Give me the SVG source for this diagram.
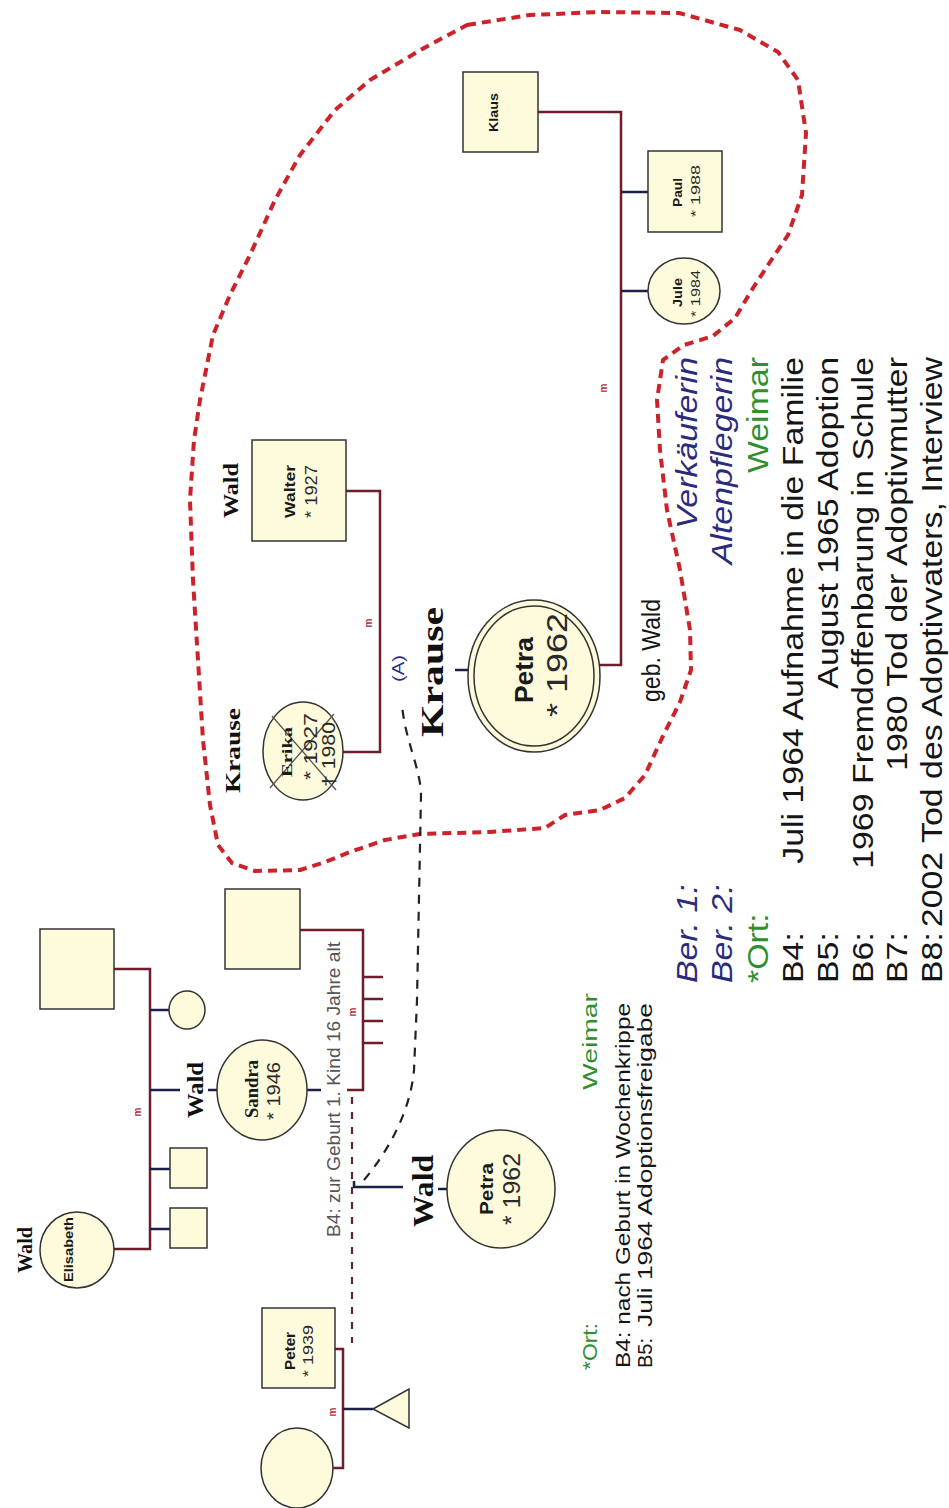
<svg xmlns="http://www.w3.org/2000/svg" width="949" height="1508" viewBox="0 0 949 1508">
<style>
.nd{fill:#fdfbdc;stroke:#333;stroke-width:1.5}
.lm{fill:none;stroke:#6e1d2a;stroke-width:2.5}
.lc{fill:none;stroke:#1e1e4a;stroke-width:2.5}
.bound{fill:none;stroke:#cc2229;stroke-width:4;stroke-dasharray:9 6;stroke-linejoin:round}
.dk{fill:none;stroke:#222;stroke-width:2.2;stroke-dasharray:9 8}
.dr{fill:none;stroke:#5a2630;stroke-width:2.2;stroke-dasharray:7 8}
.fam{font-family:"Liberation Serif",serif;font-weight:bold;fill:#111}
.nm{font-family:"Liberation Sans",sans-serif;font-weight:bold;fill:#1a1a1a}
.nms{font-family:"Liberation Serif",serif;font-weight:bold;fill:#1a1a1a}
.yr{font-family:"Liberation Sans",sans-serif;fill:#2a2a2a}
.tx{font-family:"Liberation Sans",sans-serif;fill:#151515}
.gr{font-family:"Liberation Sans",sans-serif;fill:#555}
.ber{font-family:"Liberation Sans",sans-serif;font-style:italic;fill:#2b2b7d}
.ort{font-family:"Liberation Sans",sans-serif;fill:#2f8f2f}
.blue{font-family:"Liberation Sans",sans-serif;fill:#2b2b8a}
.mm{font-family:"Liberation Sans",sans-serif;font-weight:bold;font-size:10px;fill:#b03040;text-anchor:middle}
.end{text-anchor:end}
</style>

<!-- boundary -->
<path class="bound" d="M467,25 L530,15 L600,12 L679,13 L740,30 L778,52 L798,80 L806,133 L802,195 L788,235 L770,262 L753,288 L735,318 L713,336 L684,345 L663,360 L657,400 L660,450 L667,510 L680,570 L690,630 L691,670 L680,702 L662,738 L645,775 L625,798 L600,810 L565,815 L545,828 L490,832 L420,834 L385,840 L350,852 L325,862 L300,870 L255,871 L232,863 L218,845 L210,805 L203,740 L198,660 L193,580 L190,500 L194,440 L200,400 L213,335 L230,295 L250,255 L275,200 L300,155 L335,110 L370,80 L424,48 Z"/>

<g id="connectors">
  <path class="lm" d="M114,969 H150 V1249 H113"/>
  <path class="lc" d="M150,1010 H169"/>
  <path class="lc" d="M150,1090 H180 M208,1090 H217"/>
  <path class="lc" d="M150,1169 H170"/>
  <path class="lc" d="M150,1229 H170"/>
  <path class="lm" d="M300,930 H363 V1090 H347"/>
  <path class="lc" d="M307,1090 H321"/>
  <path class="lm" d="M363,977 H383 M363,999 H383 M363,1021 H383 M363,1043 H383"/>
  <path class="lm" d="M335,1349 H343 V1468 H333"/>
  <path class="lc" d="M343,1409 H373"/>
  <path class="dr" d="M352,1097 V1343"/>
  <path class="lc" d="M354,1181 V1187 H403 M438,1189 H447"/>
  <path class="dk" d="M364,1180 C385,1155 410,1115 414,1070 L417,1000 L421,795 C421,770 405,740 402,705"/>
  <path class="lm" d="M346,491 H380 V752 H343"/>
  <path class="lc" d="M455,670 H468"/>
  <path class="lm" d="M538,112 H621 V665 H600"/>
  <path class="lc" d="M621,192 H648"/>
  <path class="lc" d="M621,291 H649"/>
  <text class="mm" transform="translate(141,1112) rotate(-90)">m</text>
  <text class="mm" transform="translate(356,1012) rotate(-90)">m</text>
  <text class="mm" transform="translate(336,1412) rotate(-90)">m</text>
  <text class="mm" transform="translate(372,623) rotate(-90)">m</text>
  <text class="mm" transform="translate(607,388) rotate(-90)">m</text>
</g>

<g id="elisabeth-husband"><rect class="nd" x="40" y="929" width="74" height="80"/></g>
<g id="sister-small"><ellipse class="nd" cx="187" cy="1010" rx="18" ry="19"/></g>
<g id="sandra">
  <ellipse class="nd" cx="262" cy="1090" rx="45" ry="50"/>
  <text class="fam" font-size="24" transform="translate(203,1118) rotate(-90)" textLength="56" lengthAdjust="spacingAndGlyphs">Wald</text>
  <text class="nms" font-size="18" transform="translate(258,1118) rotate(-90)" textLength="58" lengthAdjust="spacingAndGlyphs">Sandra</text>
  <text class="yr" font-size="18" transform="translate(280,1120) rotate(-90)" textLength="58" lengthAdjust="spacingAndGlyphs">* 1946</text>
</g>
<g id="brother1"><rect class="nd" x="170" y="1148" width="37" height="40"/></g>
<g id="brother2"><rect class="nd" x="170" y="1208" width="37" height="40"/></g>
<g id="elisabeth">
  <ellipse class="nd" cx="77" cy="1250" rx="37" ry="38"/>
  <text class="fam" font-size="20" transform="translate(32,1273) rotate(-90)" textLength="46" lengthAdjust="spacingAndGlyphs">Wald</text>
  <text class="nm" font-size="12" transform="translate(73,1282) rotate(-90)" textLength="65" lengthAdjust="spacingAndGlyphs">Elisabeth</text>
</g>
<g id="sandra-partner"><rect class="nd" x="225" y="889" width="75" height="80"/></g>
<g id="peter">
  <rect class="nd" x="262" y="1308" width="73" height="80"/>
  <text class="nm" font-size="14" transform="translate(295,1370) rotate(-90)" textLength="38" lengthAdjust="spacingAndGlyphs">Peter</text>
  <text class="yr" font-size="15" transform="translate(313,1377) rotate(-90)" textLength="52" lengthAdjust="spacingAndGlyphs">* 1939</text>
</g>
<g id="peter-partner"><ellipse class="nd" cx="297" cy="1468" rx="36" ry="40"/></g>
<g id="peter-child"><polygon class="nd" points="373,1409 409,1389 409,1428"/></g>
<g id="petra-small">
  <ellipse class="nd" cx="501" cy="1189" rx="54" ry="59"/>
  <text class="fam" font-size="30" transform="translate(433,1227) rotate(-90)" textLength="72" lengthAdjust="spacingAndGlyphs">Wald</text>
  <text class="nm" font-size="18" transform="translate(493,1215) rotate(-90)" textLength="52" lengthAdjust="spacingAndGlyphs">Petra</text>
  <text class="yr" font-size="24" transform="translate(520,1225) rotate(-90)" textLength="72" lengthAdjust="spacingAndGlyphs">* 1962</text>
</g>
<g id="note-b4">
  <text class="gr" font-size="18" transform="translate(340,1237) rotate(-90)" textLength="295" lengthAdjust="spacingAndGlyphs">B4: zur Geburt 1. Kind 16 Jahre alt</text>
</g>
<g id="legend-left">
  <text class="ort" font-size="21" transform="translate(597,1370) rotate(-90)" textLength="47" lengthAdjust="spacingAndGlyphs">*Ort:</text>
  <text class="ort" font-size="21" transform="translate(597,1090) rotate(-90)" textLength="97" lengthAdjust="spacingAndGlyphs">Weimar</text>
  <text class="tx" font-size="21" transform="translate(630,1368) rotate(-90)" textLength="365" lengthAdjust="spacingAndGlyphs">B4: nach Geburt in Wochenkrippe</text>
  <text class="tx" font-size="21" transform="translate(652,1368) rotate(-90)" textLength="30" lengthAdjust="spacingAndGlyphs">B5:</text>
  <text class="tx" font-size="21" transform="translate(652,1327) rotate(-90)" textLength="324" lengthAdjust="spacingAndGlyphs">Juli 1964 Adoptionsfreigabe</text>
</g>
<g id="erika">
  <ellipse class="nd" cx="303" cy="751" rx="40" ry="49"/>
  <path d="M272,716 L336,790 M334,714 L270,788" stroke="#555" stroke-width="1.3" fill="none"/>
  <text class="fam" font-size="22" transform="translate(240,793) rotate(-90)" textLength="85" lengthAdjust="spacingAndGlyphs">Krause</text>
  <text class="nms" font-size="15" transform="translate(292,777) rotate(-90)" textLength="50" lengthAdjust="spacingAndGlyphs">Erika</text>
  <text class="yr" font-size="18" transform="translate(317,780) rotate(-90)" textLength="67" lengthAdjust="spacingAndGlyphs">* 1927</text>
  <text class="yr" font-size="18" transform="translate(335,787) rotate(-90)" textLength="65" lengthAdjust="spacingAndGlyphs">† 1980</text>
</g>
<g id="walter">
  <rect class="nd" x="252" y="440" width="94" height="101"/>
  <text class="fam" font-size="22" transform="translate(238,518) rotate(-90)" textLength="55" lengthAdjust="spacingAndGlyphs">Wald</text>
  <text class="nm" font-size="15" transform="translate(295,518) rotate(-90)" textLength="53" lengthAdjust="spacingAndGlyphs">Walter</text>
  <text class="yr" font-size="16" transform="translate(317,518) rotate(-90)" textLength="53" lengthAdjust="spacingAndGlyphs">* 1927</text>
</g>
<g id="label-a">
  <text class="blue" font-size="16" transform="translate(404,682) rotate(-90)" textLength="27" lengthAdjust="spacingAndGlyphs">(A)</text>
</g>
<g id="petra-big">
  <ellipse class="nd" cx="534" cy="676" rx="66" ry="76"/>
  <ellipse cx="534" cy="676" rx="60" ry="70" fill="none" stroke="#333" stroke-width="1.5"/>
  <text class="fam" font-size="32" transform="translate(443,737) rotate(-90)" textLength="130" lengthAdjust="spacingAndGlyphs">Krause</text>
  <text class="nm" font-size="26" transform="translate(533,703) rotate(-90)" textLength="66" lengthAdjust="spacingAndGlyphs">Petra</text>
  <text class="yr" font-size="30" transform="translate(567,717) rotate(-90)" textLength="104" lengthAdjust="spacingAndGlyphs">* 1962</text>
  <text class="tx" font-size="26" transform="translate(660,702) rotate(-90)" textLength="103" lengthAdjust="spacingAndGlyphs">geb. Wald</text>
</g>
<g id="klaus">
  <rect class="nd" x="463" y="72" width="75" height="80"/>
  <text class="nm" font-size="12" transform="translate(498,132) rotate(-90)" textLength="39" lengthAdjust="spacingAndGlyphs">Klaus</text>
</g>
<g id="paul">
  <rect class="nd" x="648" y="151" width="74" height="81"/>
  <text class="nm" font-size="12" transform="translate(682,207) rotate(-90)" textLength="29" lengthAdjust="spacingAndGlyphs">Paul</text>
  <text class="yr" font-size="13" transform="translate(700,217) rotate(-90)" textLength="52" lengthAdjust="spacingAndGlyphs">* 1988</text>
</g>
<g id="jule">
  <ellipse class="nd" cx="684" cy="291" rx="36" ry="33"/>
  <text class="nm" font-size="12" transform="translate(682,307) rotate(-90)" textLength="29" lengthAdjust="spacingAndGlyphs">Jule</text>
  <text class="yr" font-size="13" transform="translate(700,317) rotate(-90)" textLength="47" lengthAdjust="spacingAndGlyphs">* 1984</text>
</g>
<g id="legend-right" font-size="30">
  <text class="ber" transform="translate(697,983) rotate(-90) scale(1.13,1)">Ber. 1:</text>
  <text class="ber end" transform="translate(697,357) rotate(-90) scale(1.13,1)">Verkäuferin</text>
  <text class="ber" transform="translate(732,983) rotate(-90) scale(1.13,1)">Ber. 2:</text>
  <text class="ber end" transform="translate(732,357) rotate(-90) scale(1.13,1)">Altenpflegerin</text>
  <text class="ort" transform="translate(768,983) rotate(-90) scale(1.13,1)">*Ort:</text>
  <text class="ort end" transform="translate(768,357) rotate(-90) scale(1.13,1)">Weimar</text>
  <text class="tx" transform="translate(803,983) rotate(-90) scale(1.13,1)">B4:</text>
  <text class="tx end" transform="translate(803,357) rotate(-90) scale(1.13,1)">Juli 1964 Aufnahme in die Familie</text>
  <text class="tx" transform="translate(838,983) rotate(-90) scale(1.13,1)">B5:</text>
  <text class="tx end" transform="translate(838,357) rotate(-90) scale(1.13,1)">August 1965 Adoption</text>
  <text class="tx" transform="translate(873,983) rotate(-90) scale(1.13,1)">B6:</text>
  <text class="tx end" transform="translate(873,357) rotate(-90) scale(1.13,1)">1969 Fremdoffenbarung in Schule</text>
  <text class="tx" transform="translate(907,983) rotate(-90) scale(1.13,1)">B7:</text>
  <text class="tx end" transform="translate(907,357) rotate(-90) scale(1.13,1)">1980 Tod der Adoptivmutter</text>
  <text class="tx" transform="translate(942,983) rotate(-90) scale(1.13,1)">B8:</text>
  <text class="tx end" transform="translate(942,357) rotate(-90) scale(1.13,1)">2002 Tod des Adoptivvaters, Interview</text>
</g>
</svg>
